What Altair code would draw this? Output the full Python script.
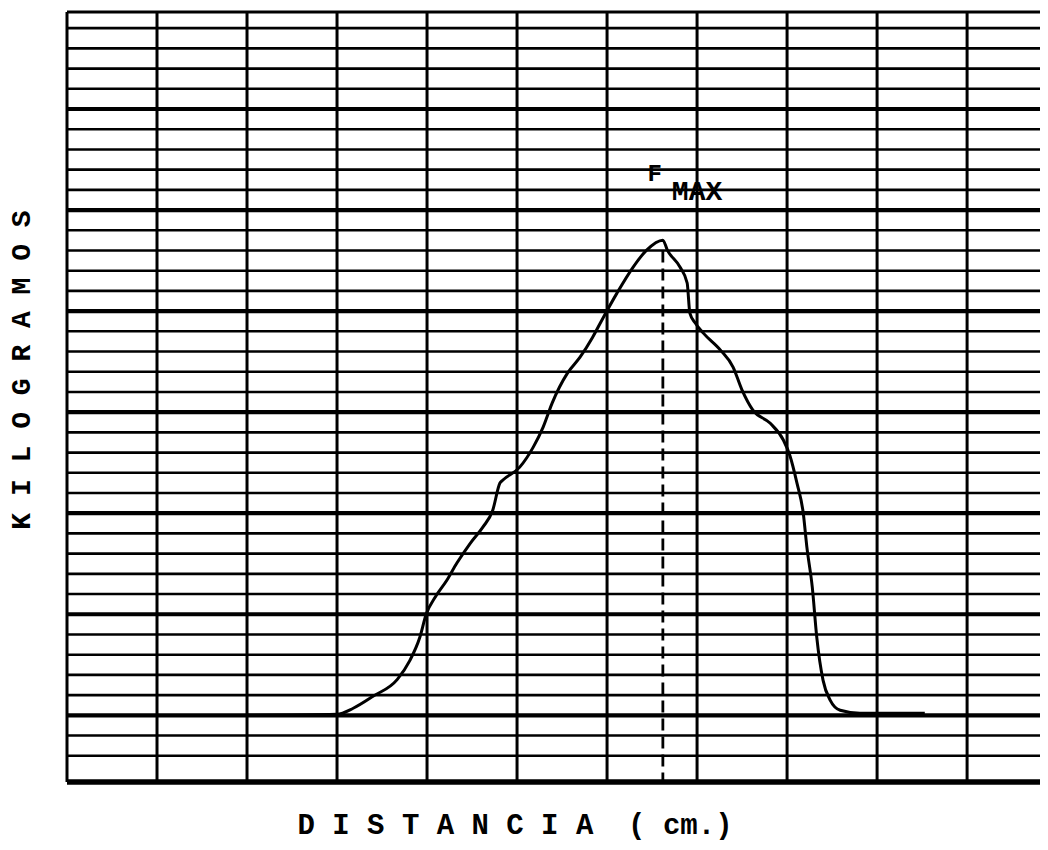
import altair as alt
import pandas as pd

# Curve (x: grid columns of distance, y: minor grid units of kg)
dist = [1.99, 3.00, 3.18, 3.40, 3.67, 3.81, 3.92, 3.99, 4.09, 4.22, 4.33, 4.48, 4.62,
        4.73, 4.81, 4.84, 5.03, 5.18, 5.29, 5.39, 5.56, 5.70, 5.84, 5.96, 6.11, 6.29,
        6.44, 6.62, 6.67, 6.81, 6.89, 6.92, 6.98, 7.07, 7.26, 7.40, 7.50, 7.62, 7.81,
        7.96, 8.03, 8.11, 8.18, 8.22, 8.28, 8.33, 8.40, 8.48, 8.59, 8.81, 9.53]
kg = [0.00, 0.05, 0.35, 0.94, 1.78, 2.72, 3.86, 5.00, 5.84, 6.68, 7.52, 8.51, 9.31,
      10.15, 11.49, 11.63, 12.28, 13.27, 14.26, 15.45, 16.93, 17.72, 18.71, 19.70, 20.89, 22.18,
      23.02, 23.51, 23.02, 22.18, 21.39, 19.90, 19.41, 18.91, 18.07, 17.23, 16.09, 15.10, 14.46,
      13.61, 12.87, 11.49, 10.00, 8.32, 6.34, 3.86, 1.73, 0.74, 0.25, 0.10, 0.10]

# Graph-paper grid
h_minor = [-2, -1] + [v for v in range(1, 35) if v % 5 != 0]
h_major = [0, 5, 10, 15, 20, 25, 30]
v_lines = [1, 2, 3, 4, 5, 6, 7, 8, 9, 10]
x_domain = [0, 10.81]
y_domain = [-3.3, 34.8]

# F_MAX marker
fmax_x = [6.62]
fmax_y_top = [23.0]
fmax_labels = ["F", "MAX"]
fmax_lx = [6.53, 7.0]
fmax_ly = [26.8, 25.9]
fmax_sizes = [24, 28]

x_title = "D I S T A N C I A\u00a0\u00a0( cm.)"
y_title = "K I L O G R A M O S"

xs = alt.Scale(domain=x_domain, nice=False, zero=False)
ys = alt.Scale(domain=y_domain, nice=False, zero=False)
FONT = "Liberation Mono"

curve_df = pd.DataFrame({"d": dist, "k": kg})

minor = alt.Chart(pd.DataFrame({"v": h_minor})).mark_rule(
    color="black", strokeWidth=2.6).encode(y=alt.Y("v:Q", scale=ys, axis=None))
major = alt.Chart(pd.DataFrame({"v": h_major})).mark_rule(
    color="black", strokeWidth=4.2).encode(y=alt.Y("v:Q", scale=ys, axis=None))
bottom = alt.Chart(pd.DataFrame({"v": [y_domain[0]]})).mark_rule(
    color="black", strokeWidth=5.5).encode(y=alt.Y("v:Q", scale=ys, axis=None))
top = alt.Chart(pd.DataFrame({"v": [y_domain[1]]})).mark_rule(
    color="black", strokeWidth=3.2).encode(y=alt.Y("v:Q", scale=ys, axis=None))
verts = alt.Chart(pd.DataFrame({"v": v_lines})).mark_rule(
    color="black", strokeWidth=3).encode(x=alt.X("v:Q", scale=xs, axis=None))
left = alt.Chart(pd.DataFrame({"v": [x_domain[0]]})).mark_rule(
    color="black", strokeWidth=3).encode(x=alt.X("v:Q", scale=xs, axis=None))

dash = alt.Chart(pd.DataFrame({"x": fmax_x, "y": fmax_y_top, "y2": [y_domain[0]]})).mark_rule(
    color="black", strokeWidth=2.8, strokeDash=[12, 6]).encode(
    x=alt.X("x:Q", scale=xs, axis=None),
    y=alt.Y("y:Q", scale=ys, axis=None), y2="y2:Q")

curve = alt.Chart(curve_df).mark_line(
    color="black", strokeWidth=3, interpolate="monotone").encode(
    x=alt.X("d:Q", scale=xs, axis=None),
    y=alt.Y("k:Q", scale=ys, axis=None))

lab_df = pd.DataFrame({"t": fmax_labels, "x": fmax_lx, "y": fmax_ly, "s": fmax_sizes})
labels = alt.Chart(lab_df).mark_text(
    font=FONT, fontWeight="bold", color="black", baseline="middle").encode(
    x=alt.X("x:Q", scale=xs, axis=None),
    y=alt.Y("y:Q", scale=ys, axis=None),
    text="t:N",
    size=alt.Size("s:Q", scale=None, legend=None))

xt = alt.Chart(pd.DataFrame({"t": [x_title]})).mark_text(
    font=FONT, fontWeight="bold", fontSize=29, color="black", baseline="middle").encode(
    text="t:N", x=alt.value(448), y=alt.value(813))
yt = alt.Chart(pd.DataFrame({"t": [y_title]})).mark_text(
    font=FONT, fontWeight="bold", fontSize=28, color="black", angle=270,
    baseline="middle").encode(
    text="t:N", x=alt.value(-45), y=alt.value(358))

chart = alt.layer(minor, major, bottom, top, verts, left, dash, curve, labels, xt, yt).properties(
    width=973, height=770,
    autosize=alt.AutoSizeParams(type="none"),
    padding={"left": 59, "top": 4, "right": 0, "bottom": 64},
).configure_view(stroke=None, clip=False).configure(background="white")

chart.save("out.html", embed_options={"renderer": "svg", "actions": False})
